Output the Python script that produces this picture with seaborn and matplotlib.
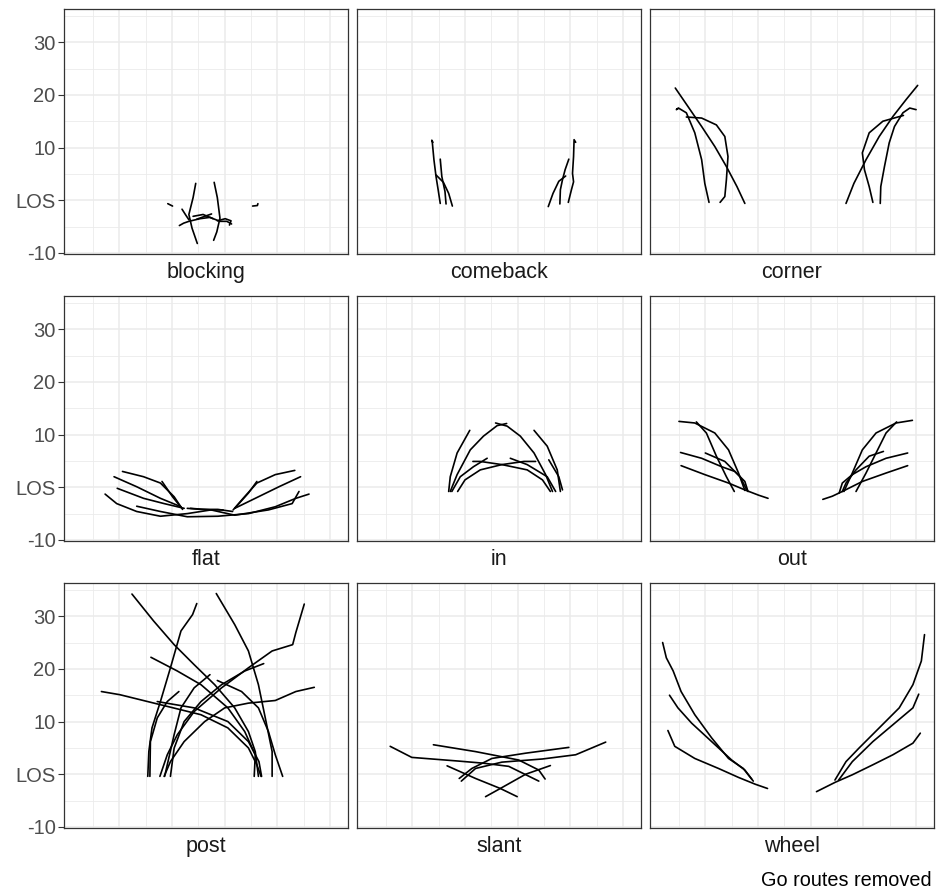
import matplotlib
matplotlib.use("Agg")
import matplotlib.pyplot as plt
import pandas as pd
import seaborn as sns

# facet order (ggplot facet_wrap, alphabetical)
ROUTES = ["blocking", "comeback", "corner", "flat", "in", "out", "post", "slant", "wheel"]
Y_TICKS = [-10, 0, 10, 20, 30]
Y_TICK_LABELS = ["-10", "LOS", "10", "20", "30"]
CAPTION = "Go routes removed"

# each route: list of paths, each path a list of (x, y) in yards
# x = across the field (0 - 53.3), y = yards past the line of scrimmage
BLOCKING = [
    [(24.5, 3.2), (24.0, 0.5), (23.2, -2.7), (23.8, -5.3), (24.8, -8.2)],
    [(28.0, 3.4), (28.6, 0.5), (29.1, -3.4), (28.5, -6.0), (27.9, -7.6)],
    [(21.9, -1.7), (22.6, -2.8), (23.2, -3.7)],
    [(21.4, -4.8), (22.2, -4.35), (23.2, -4.0), (25.3, -3.5), (27.2, -3.25),
     (29.1, -4.0), (30.4, -4.0), (31.3, -4.5)],
    [(24.0, -3.05), (25.9, -2.7), (27.8, -3.5)],
    [(24.7, -3.6), (26.2, -3.05), (27.5, -2.6)],
    [(28.6, -3.9), (30.1, -3.5), (31.2, -3.9), (30.9, -4.7)],
    [(19.2, -0.65), (20.1, -1.1)],
    [(35.3, -1.1), (36.2, -1.0), (36.3, -0.65)],
]

COMEBACK = [
    [(13.9, 11.0), (13.7, 11.4), (13.8, 10.9), (14.1, 7.7), (14.5, 4.5), (14.9, 2.0), (15.3, -0.6)],
    [(15.3, 7.8), (15.6, 4.5), (16.2, 1.65), (16.4, -0.7)],
    [(14.5, 4.8), (15.9, 3.4), (16.9, 1.3), (17.6, -1.1)],
    [(41.0, 11.0), (40.7, 11.5), (40.6, 8.3), (40.4, 5.1), (40.6, 3.5), (40.2, 2.0), (39.6, -0.4)],
    [(39.7, 7.8), (39.0, 5.8), (38.5, 3.9), (38.1, 2.0), (38.0, -0.7)],
    [(39.1, 4.6), (37.8, 3.6), (36.7, 1.3), (35.8, -1.2)],
]

CORNER = [
    [(4.3, 21.3), (6.7, 17.8), (9.3, 14.0), (11.8, 10.2), (14.0, 6.4), (16.0, 2.6), (17.5, -0.6)],
    [(4.8, 17.4), (4.5, 17.2), (4.9, 17.5), (6.4, 16.6), (8.0, 12.8), (9.3, 7.7), (9.9, 3.2), (10.7, -0.4)],
    [(6.4, 15.8), (9.3, 15.6), (12.1, 14.3), (13.7, 12.1), (14.3, 8.3), (14.0, 3.9), (13.7, 0.7), (12.8, -0.4)],
    [(50.3, 21.8), (48.1, 19.1), (45.6, 15.9), (43.0, 12.1), (40.5, 7.7), (38.2, 3.2), (36.7, -0.6)],
    [(50.0, 17.2), (48.8, 17.5), (47.5, 16.6), (45.9, 14.0), (44.9, 10.9), (44.0, 6.4), (43.3, 2.6), (43.2, -0.6)],
    [(47.6, 16.1), (43.7, 15.0), (41.1, 12.8), (39.8, 9.0), (40.2, 5.8), (41.1, 2.6), (41.8, -0.4)],
]

FLAT = [
    [(10.6, 3.0), (14.6, 2.0), (17.8, 0.8), (20.4, -1.8), (22.0, -4.2)],
    [(9.0, 2.0), (13.3, 0.1), (17.8, -2.1), (21.7, -3.7)],
    [(9.6, -0.2), (14.6, -2.1), (18.5, -3.1), (22.3, -4.0)],
    [(18.1, 1.1), (20.1, -1.8), (21.7, -3.8)],
    [(7.3, -1.3), (9.5, -3.1), (13.3, -4.6), (17.8, -5.5), (22.9, -5.0), (27.4, -4.3), (29.7, -4.3)],
    [(13.3, -3.6), (17.8, -4.6), (22.9, -5.6), (28.7, -5.5), (34.5, -5.0), (39.6, -3.7),
     (43.5, -2.1), (46.0, -1.3)],
    [(23.5, -4.0), (27.4, -4.3), (31.9, -5.3), (38.3, -4.3), (42.8, -3.1), (44.1, -0.8)],
    [(43.3, 3.2), (39.6, 2.4), (36.1, 0.8), (33.5, -2.1), (31.6, -4.3)],
    [(44.4, 2.0), (40.3, 0.1), (35.8, -2.1), (31.9, -4.0)],
    [(36.1, 1.1), (34.5, -1.1), (31.9, -4.0)],
    [(22.9, -4.0), (25.5, -4.2), (28.7, -4.2), (31.5, -4.6)],
]

IN = [
    [(16.9, -0.8), (17.2, 2.0), (18.5, 6.5), (20.9, 10.8)],
    [(17.2, -0.8), (18.5, 2.4), (21.0, 7.1), (23.5, 9.7), (26.1, 11.7), (27.9, 12.1)],
    [(36.6, -0.8), (35.3, 2.4), (33.1, 6.5), (30.5, 9.7), (28.0, 11.6), (25.8, 12.2)],
    [(18.6, -0.8), (20.0, 1.4), (22.9, 3.3), (27.0, 4.3), (31.2, 4.9), (33.4, 4.9)],
    [(36.2, -0.8), (34.7, 1.4), (31.8, 3.3), (27.0, 4.3), (22.9, 4.9), (21.5, 4.9)],
    [(17.5, -0.8), (19.1, 2.0), (21.6, 3.9), (24.2, 5.5)],
    [(37.2, -0.8), (35.6, 2.0), (31.8, 4.3), (28.6, 5.5)],
    [(38.1, -0.8), (37.5, 3.3), (35.6, 7.8), (33.1, 10.8)],
    [(38.5, -0.5), (37.8, 2.0), (35.9, 5.2)],
]

OUT = [
    [(5.0, 12.5), (8.0, 12.2), (11.8, 10.3), (14.4, 7.1), (16.3, 2.7), (17.5, -0.6)],
    [(8.3, 12.4), (10.2, 10.3), (12.1, 5.9), (14.0, 2.0), (15.5, -0.8)],
    [(5.3, 6.6), (9.3, 5.5), (13.1, 3.9), (15.6, 3.0), (17.5, 1.1), (18.1, -0.8)],
    [(10.0, 6.5), (13.7, 4.9), (16.6, 2.0), (17.9, -0.6)],
    [(5.4, 4.1), (9.9, 2.4), (14.4, 0.8), (17.5, -0.5), (20.1, -1.5), (21.9, -2.1)],
    [(49.3, 12.7), (46.2, 12.2), (42.4, 10.3), (39.8, 7.1), (37.9, 2.7), (36.3, -0.8)],
    [(46.3, 12.4), (44.3, 10.3), (42.4, 6.5), (40.5, 2.7), (38.6, -0.8)],
    [(48.4, 6.5), (44.3, 5.5), (40.5, 3.9), (37.9, 2.4), (36.0, 0.8), (35.4, -1.1)],
    [(43.8, 6.8), (41.1, 5.9), (38.6, 3.3), (36.7, 0.8), (36.0, -0.8)],
    [(48.4, 4.1), (44.3, 2.7), (39.8, 1.1), (36.0, -0.8), (34.1, -1.7), (32.3, -2.3)],
]

POST = [
    [(12.4, 34.2), (16.5, 29.1), (20.4, 24.6), (24.2, 20.8), (28.1, 17.0), (31.9, 12.6),
     (34.5, 8.1), (35.8, 4.3), (36.4, -0.4)],
    [(28.4, 34.3), (31.9, 28.4), (34.5, 23.4), (36.4, 17.0), (37.7, 10.7), (39.0, 4.3), (39.0, -0.4)],
    [(24.7, 32.4), (23.9, 30.3), (21.7, 27.2), (19.7, 20.2), (17.8, 13.8), (16.2, 8.8),
     (15.6, 4.3), (15.4, -0.4)],
    [(45.1, 32.3), (43.5, 26.9), (42.9, 24.6), (39.0, 23.4), (34.5, 20.2), (29.4, 16.4),
     (24.2, 11.9), (21.0, 7.5), (19.1, 3.7), (17.7, -0.4)],
    [(16.0, 22.2), (21.0, 19.6), (25.5, 17.0), (30.6, 12.6), (33.8, 8.1), (35.8, 3.7), (35.6, -0.4)],
    [(37.4, 21.0), (33.8, 19.6), (29.4, 17.0), (25.5, 13.8), (22.3, 10.0), (20.4, 4.95), (19.7, -0.4)],
    [(6.6, 15.7), (10.1, 15.1), (17.8, 13.2), (25.5, 11.3), (30.6, 8.8), (34.5, 5.0),
     (36.1, 1.8), (36.9, -0.4)],
    [(47.0, 16.5), (43.5, 15.7), (39.6, 14.0), (34.5, 13.5), (30.0, 12.6), (26.2, 10.0),
     (22.3, 6.2), (19.7, 2.4), (18.5, -0.4)],
    [(21.3, 15.7), (19.1, 13.8), (17.2, 10.7), (15.9, 6.2), (15.8, -0.4)],
    [(27.2, 18.9), (24.2, 16.4), (21.7, 12.6), (20.4, 7.5), (18.6, -0.4)],
    [(17.2, 13.8), (24.2, 12.6), (30.6, 10.0), (34.5, 6.2), (36.5, 2.4), (37.0, -0.4)],
    [(28.6, 17.8), (33.2, 15.7), (36.4, 12.6), (38.3, 8.1), (39.6, 3.7), (41.0, -0.4)],
]

SLANT = [
    [(5.8, 5.3), (9.9, 3.2), (18.8, 2.5), (23.5, 2.1), (28.3, 1.5), (34.0, -1.3)],
    [(14.0, 5.6), (22.0, 4.3), (30.2, 2.7), (34.0, 0.8), (35.2, -0.9)],
    [(46.7, 6.1), (44.8, 5.3), (41.0, 3.7), (34.7, 2.9), (27.0, 2.3), (22.0, 1.1), (19.3, -1.3)],
    [(39.7, 5.1), (31.5, 4.0), (25.1, 3.0), (21.3, 1.1), (18.9, -0.8)],
    [(16.6, 1.6), (22.0, -0.8), (26.7, -2.7), (29.9, -4.25)],
    [(23.9, -4.25), (26.7, -2.7), (31.5, 0.0), (36.2, 1.65)],
]

WHEEL = [
    [(1.9, 25.0), (2.6, 22.1), (3.9, 19.6), (5.4, 15.7), (8.0, 11.3), (11.2, 6.9), (14.4, 3.0),
     (17.2, 1.1), (19.1, -1.3)],
    [(3.2, 15.0), (4.8, 12.6), (7.4, 9.7), (11.2, 6.2), (15.0, 2.7), (17.5, 0.8), (18.8, -0.9)],
    [(2.9, 8.3), (4.2, 5.3), (8.0, 3.0), (12.5, 1.1), (16.3, -0.6), (19.5, -1.9), (21.8, -2.7)],
    [(51.6, 26.5), (51.0, 21.5), (49.4, 17.0), (46.8, 12.6), (43.0, 8.8), (39.2, 5.0),
     (36.7, 2.4), (34.6, -1.1)],
    [(50.5, 15.2), (49.4, 12.6), (45.6, 9.4), (41.8, 6.2), (37.9, 2.4), (35.3, -1.1)],
    [(50.8, 7.8), (49.4, 5.9), (45.6, 3.7), (41.8, 1.8), (37.9, -0.1), (34.7, -1.5), (31.1, -3.3)],
]

ROUTE_PATHS = [BLOCKING, COMEBACK, CORNER, FLAT, IN, OUT, POST, SLANT, WHEEL]


def build_frame():
    rows = []
    for route, paths in zip(ROUTES, ROUTE_PATHS):
        for pid, path in enumerate(paths):
            for step, (x, y) in enumerate(path):
                rows.append({"route": route, "path": pid, "step": step, "x": x, "y": y})
    return pd.DataFrame(rows)


df = build_frame()

sns.set_theme(style="white")
plt.rcParams["font.family"] = ["Liberation Sans", "DejaVu Sans"]

W, H = 938, 894
fig, axes = plt.subplots(3, 3, figsize=(W / 100, H / 100), dpi=100)
fig.subplots_adjust(left=64 / W, right=934 / W, top=1 - 9 / H, bottom=1 - 828 / H,
                    wspace=9 / 284, hspace=42 / 245)

for i, (ax, route) in enumerate(zip(axes.flat, ROUTES)):
    sub = df[df["route"] == route]
    sns.lineplot(data=sub, x="x", y="y", units="path", estimator=None, sort=False,
                 color="black", linewidth=1.2, legend=False, ax=ax)

    ax.set_xlim(-0.5, 53.4)
    ax.set_ylim(-10.2, 36.3)
    ax.set_xticks([10, 20, 30, 40, 50])
    ax.set_xticks([5, 15, 25, 35, 45], minor=True)
    ax.set_yticks(Y_TICKS)
    ax.set_yticks([-5, 5, 15, 25, 35], minor=True)
    ax.grid(which="major", color="#EBEBEB", linewidth=1.1)
    ax.grid(which="minor", color="#EBEBEB", linewidth=0.6)
    ax.set_axisbelow(True)
    ax.set_xlabel("")
    ax.set_ylabel("")
    ax.tick_params(axis="x", which="both", length=0, labelbottom=False)
    ax.tick_params(axis="y", which="minor", length=0)
    if i % 3 == 0:
        ax.set_yticklabels(Y_TICK_LABELS)
        ax.tick_params(axis="y", which="major", length=4, width=0.8, color="#333333",
                       labelsize=14.5, labelcolor="#4D4D4D", pad=2, left=True)
    else:
        ax.tick_params(axis="y", which="major", length=0, labelleft=False)
    for spine in ax.spines.values():
        spine.set_visible(True)
        spine.set_color("#333333")
        spine.set_linewidth(0.9)
    ax.text(0.5, -0.075, route, transform=ax.transAxes, ha="center", va="center",
            fontsize=15.5, color="#1A1A1A")

fig.text(932 / W, 1 - 880 / H, CAPTION, ha="right", va="center", fontsize=14.3, color="black")

fig.savefig("out.png", dpi=100)
